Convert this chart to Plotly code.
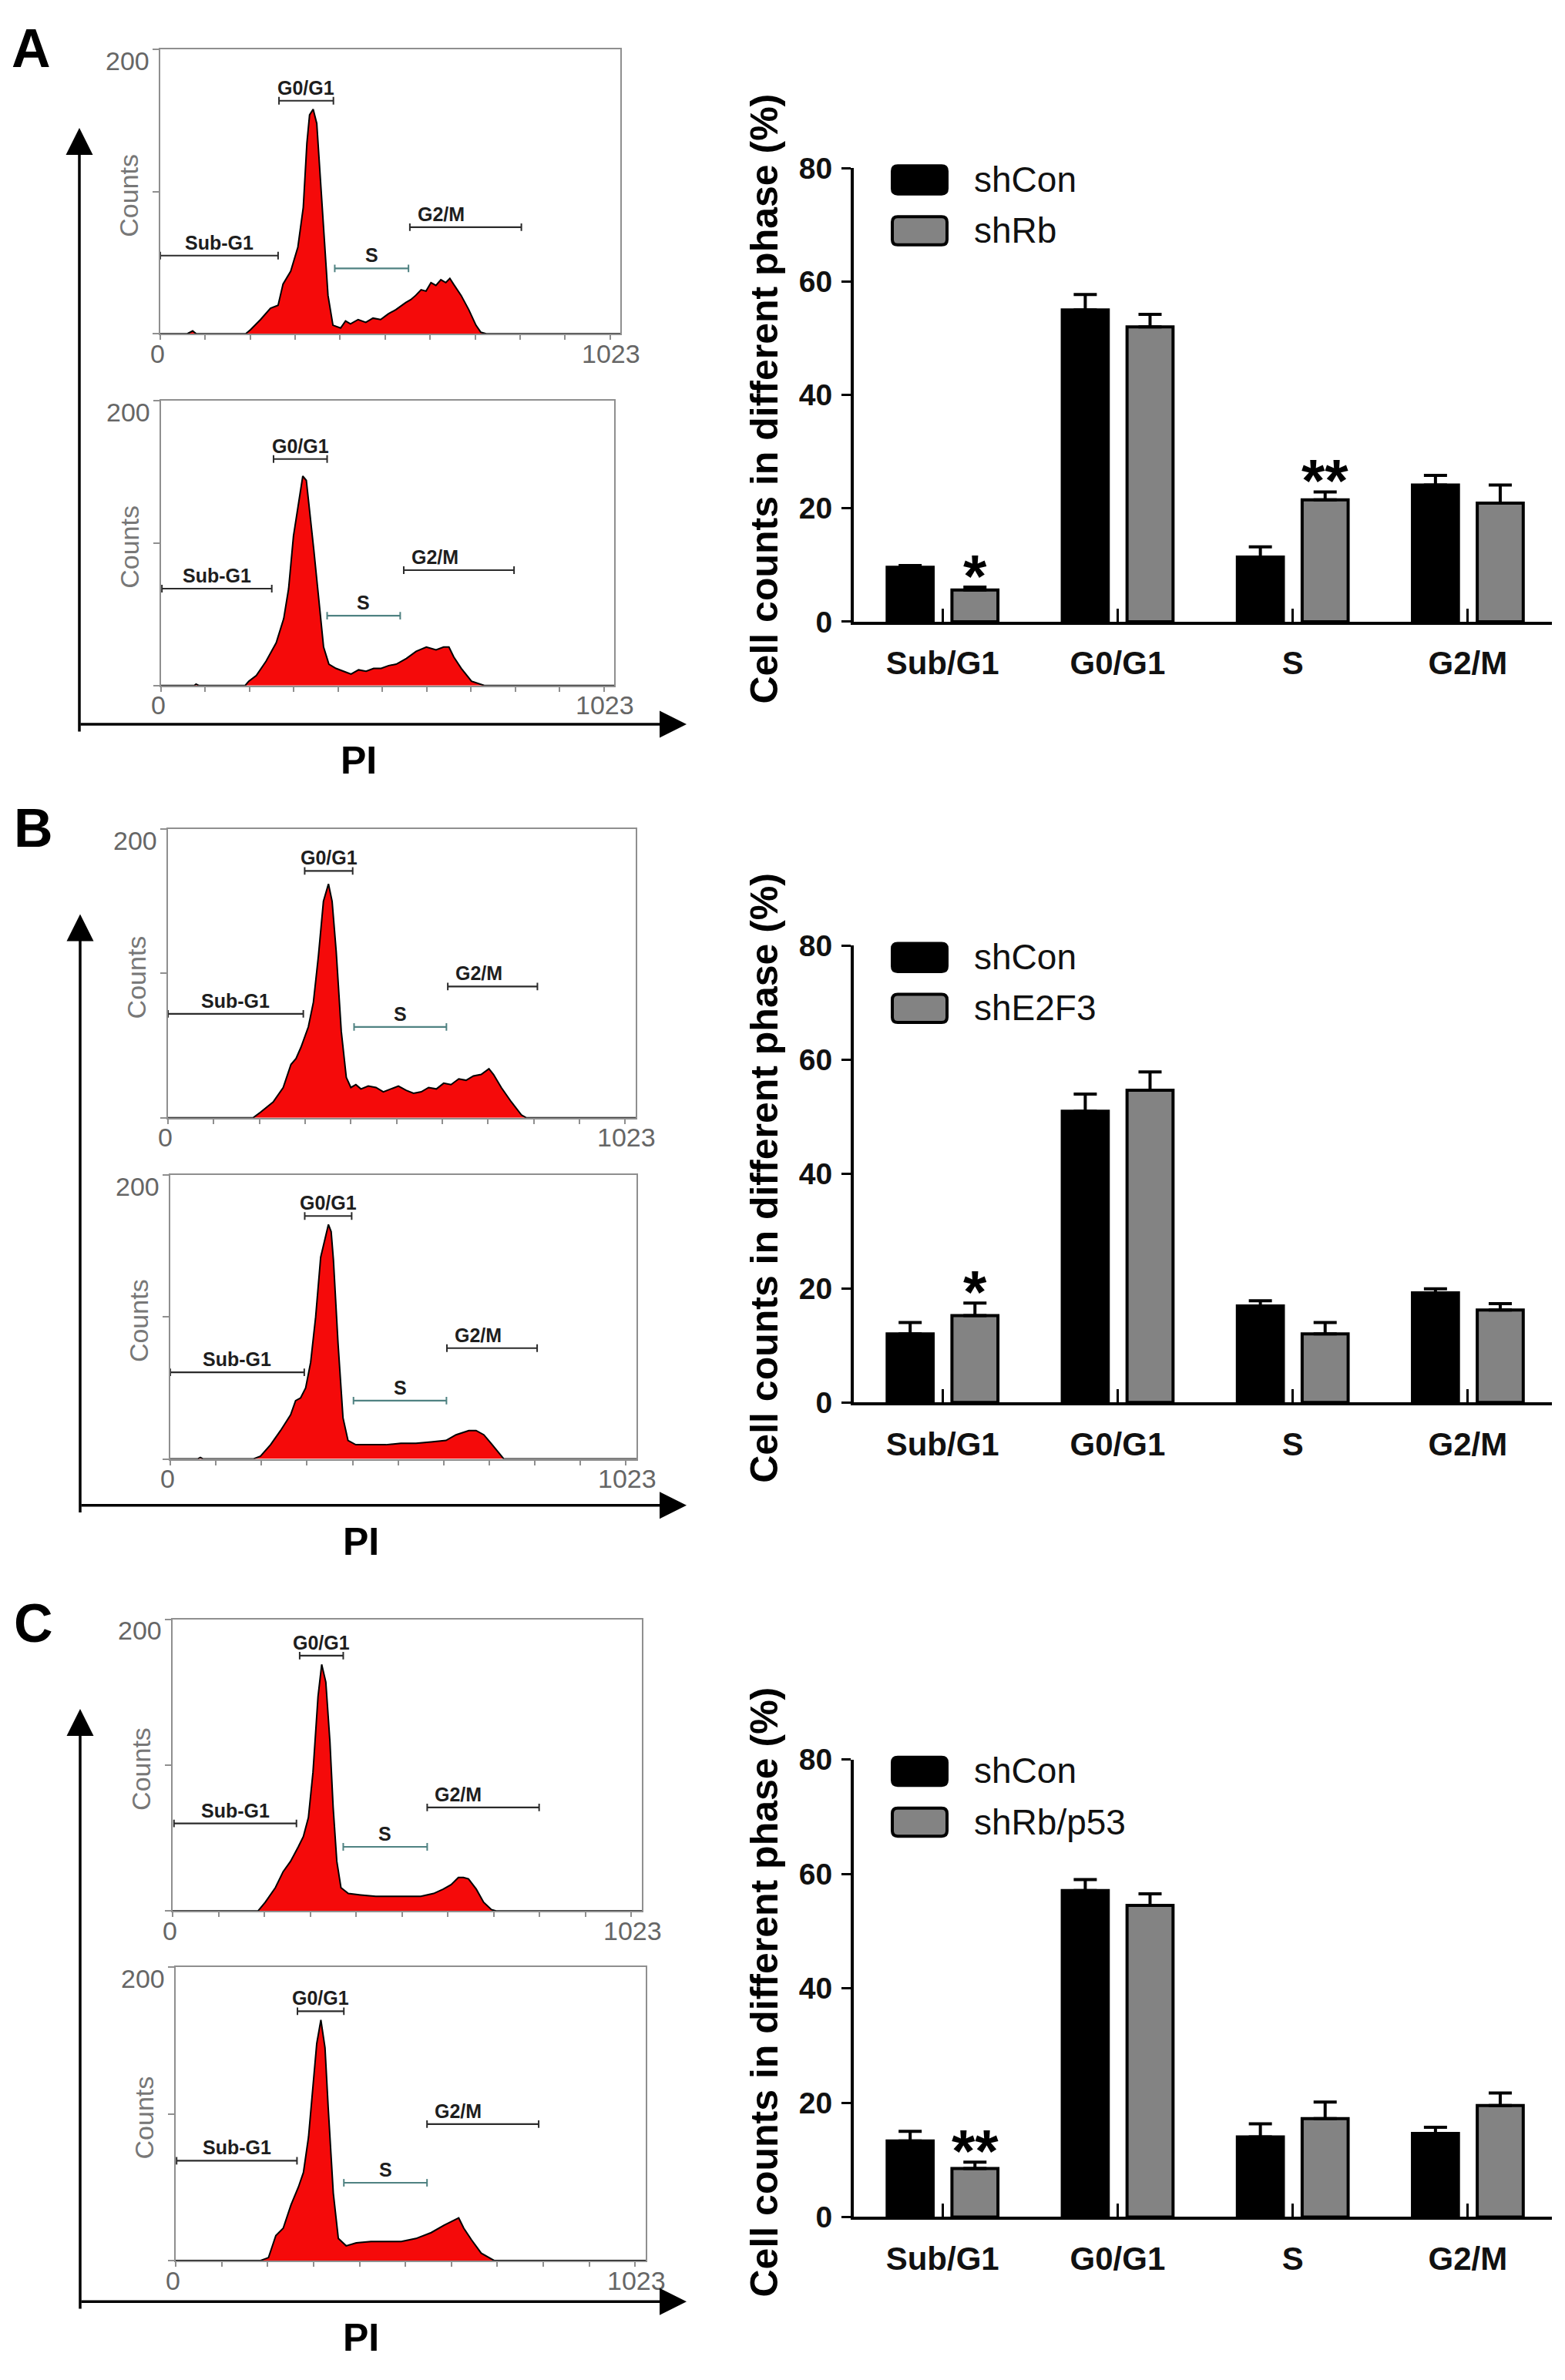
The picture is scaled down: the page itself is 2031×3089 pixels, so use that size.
import plotly.graph_objects as go

W, H = 2031, 3089
FONT = "Arial, Liberation Sans, sans-serif"

# ---- bar charts: phase percentages (mean, upper error) ----
PHASES = ["Sub/G1", "G0/G1", "S", "G2/M"]

A_CON = [9.6, 55.0, 11.4, 24.1]
A_CON_ERR = [0.3, 2.7, 1.8, 1.7]
A_KD = [5.6, 52.0, 21.5, 20.9]
A_KD_ERR = [0.5, 2.2, 1.4, 3.2]

B_CON = [12.0, 51.0, 16.9, 19.2]
B_CON_ERR = [2.0, 3.0, 0.9, 0.7]
B_KD = [15.2, 54.7, 12.0, 16.2]
B_KD_ERR = [2.2, 3.2, 2.0, 1.1]

C_CON = [13.3, 57.1, 14.0, 14.6]
C_CON_ERR = [1.7, 1.9, 2.3, 1.1]
C_KD = [8.5, 54.5, 17.2, 19.5]
C_KD_ERR = [1.1, 2.0, 2.9, 2.2]

KD_NAMES = ["shRb", "shE2F3", "shRb/p53"]
STARS = [[("Sub/G1", "*"), ("S", "**")], [("Sub/G1", "*")], [("Sub/G1", "**")]]

BAR_TICKS = [0, 20, 40, 60, 80]

# ---- PI histograms (channel, counts) ----
A_TOP_CH = [0, 60, 72, 80, 190, 201, 223, 245, 262, 273, 290, 306, 318, 326, 332, 340, 348, 354, 362,
            373, 384, 401, 412, 423, 440, 457, 473, 490, 507, 524, 546, 557, 568, 580, 591, 602, 613,
            624, 635, 644, 652, 669, 686, 702, 713, 725, 1023]
A_TOP_CT = [0, 0, 2, 0, 0, 3, 10, 18, 20, 35, 44, 61, 89, 134, 154, 158, 148, 120, 79,
            27, 6, 4, 9, 7, 10, 8, 11, 10, 14, 17, 22, 24, 27, 31, 30, 36, 34,
            38, 36, 39, 35, 27, 17, 6, 1, 0, 0]

A_BOT_CH = [0, 75, 79, 85, 190, 198, 215, 237, 260, 277, 288, 299, 311, 320, 328, 337, 345, 356, 367,
            379, 395, 412, 429, 446, 463, 480, 497, 514, 531, 554, 576, 599, 621, 638, 650, 661, 678,
            701, 718, 730, 1023]
A_BOT_CT = [0, 0, 1, 0, 0, 3, 7, 17, 30, 47, 68, 105, 129, 147, 144, 119, 95, 61, 27,
            15, 12, 10, 8, 11, 10, 12, 12, 14, 15, 19, 24, 27, 25, 27, 27, 20, 12,
            3, 1, 0, 0]

B_TOP_CH = [0, 186, 203, 230, 252, 269, 280, 291, 307, 318, 329, 340, 351, 359, 368, 379, 390, 400,
            411, 422, 438, 455, 471, 488, 504, 521, 537, 554, 570, 587, 603, 619, 636, 652, 668, 685,
            702, 712, 729, 751, 773, 784, 1023]
B_TOP_CT = [0, 0, 4, 11, 21, 37, 41, 49, 63, 80, 112, 150, 162, 150, 115, 60, 28, 21,
            23, 20, 22, 21, 18, 20, 22, 19, 17, 18, 21, 20, 24, 23, 27, 26, 29, 30,
            34, 30, 21, 11, 2, 0, 0]

B_BOT_CH = [0, 60, 66, 72, 182, 198, 220, 242, 264, 275, 286, 297, 308, 319, 330, 341, 347, 353, 358,
            368, 379, 390, 407, 440, 473, 506, 539, 572, 605, 627, 655, 671, 688, 704, 721, 732, 1023]
B_BOT_CT = [0, 0, 1, 0, 0, 2, 10, 20, 31, 41, 43, 50, 68, 100, 142, 158, 165, 160, 140,
            82, 29, 13, 10, 10, 10, 11, 11, 12, 13, 17, 20, 20, 17, 11, 4, 0, 0]

C_TOP_CH = [0, 186, 202, 224, 241, 257, 274, 285, 296, 306, 317, 325, 334, 343, 350, 358, 367, 383,
            410, 443, 476, 509, 541, 569, 590, 607, 623, 634, 645, 662, 678, 695, 705, 1023]
C_TOP_CT = [0, 0, 6, 16, 27, 34, 44, 51, 64, 95, 147, 169, 157, 116, 71, 34, 16, 12,
            11, 10, 10, 10, 10, 12, 15, 18, 23, 23, 22, 15, 6, 1, 0, 0]

C_BOT_CH = [0, 185, 202, 218, 234, 251, 267, 278, 289, 300, 307, 316, 325, 332, 343, 354, 371, 393,
            425, 458, 491, 523, 556, 584, 605, 616, 627, 644, 665, 693, 1023]
C_BOT_CT = [0, 0, 2, 17, 22, 38, 50, 60, 84, 121, 148, 164, 145, 104, 46, 15, 10, 12,
            13, 13, 13, 15, 19, 24, 27, 29, 22, 14, 5, 0, 0]

# gates: (start channel, end channel, counts level) for Sub-G1, G0/G1, S, G2/M
GATE_NAMES = ["Sub-G1", "G0/G1", "S", "G2/M"]
A_TOP_GATES = [(0, 262, 55), (264, 385, 164), (388, 552, 46), (555, 803, 75)]
A_BOT_GATES = [(2, 250, 68), (254, 375, 159), (375, 540, 49), (548, 797, 81)]
B_TOP_GATES = [(0, 296, 72), (299, 404, 171), (407, 609, 63), (612, 808, 91)]
B_BOT_GATES = [(0, 294, 61), (295, 398, 171), (402, 606, 41), (607, 805, 78)]
C_TOP_GATES = [(3, 270, 60), (277, 372, 175), (372, 555, 44), (555, 799, 71)]
C_BOT_GATES = [(2, 264, 68), (265, 366, 170), (366, 547, 53), (547, 790, 93)]

HIST_XTICKS = [0, 100, 200, 300, 400, 500, 600, 700, 800, 900, 1000]
HIST_YTICKS = [0, 100, 200]
HIST_LABELS = ["0", "1023", "200"]

# ---- page layout (pixels) ----
PANELS = [
    dict(letter="A", letter_xy=(13, 1),
         top=(208, 805, 44, 418), bot=(209, 797, 506, 881),
         bar_y=(200, 797), arrow=(103, 147, 932, 891), pi=(465, 980)),
    dict(letter="B", letter_xy=(16, 1027),
         top=(218, 825, 1070, 1450), bot=(221, 826, 1525, 1899),
         bar_y=(1223.5, 1824.6), arrow=(104, 1182, 1960, 891), pi=(468, 2008)),
    dict(letter="C", letter_xy=(16, 2074),
         top=(224, 833, 2110, 2494), bot=(228, 838, 2568, 2954),
         bar_y=(2294.6, 2896.8), arrow=(104, 2228, 3008, 891), pi=(468, 3056)),
]
BAR_X = (1108, 2014)

HISTS = [
    [(A_TOP_CH, A_TOP_CT, A_TOP_GATES), (A_BOT_CH, A_BOT_CT, A_BOT_GATES)],
    [(B_TOP_CH, B_TOP_CT, B_TOP_GATES), (B_BOT_CH, B_BOT_CT, B_BOT_GATES)],
    [(C_TOP_CH, C_TOP_CT, C_TOP_GATES), (C_BOT_CH, C_BOT_CT, C_BOT_GATES)],
]
BARS = [(A_CON, A_CON_ERR, A_KD, A_KD_ERR),
        (B_CON, B_CON_ERR, B_KD, B_KD_ERR),
        (C_CON, C_CON_ERR, C_KD, C_KD_ERR)]


def px(x):
    return x / W


def py(y):
    return 1 - y / H


def rounded_rect(x0, x1, top, bottom, r):
    """svg path (paper coords) for a legend swatch with rounded corners"""
    pts = [("M", x0 + r, top), ("L", x1 - r, top), ("Q", x1, top, x1, top + r),
           ("L", x1, bottom - r), ("Q", x1, bottom, x1 - r, bottom),
           ("L", x0 + r, bottom), ("Q", x0, bottom, x0, bottom - r),
           ("L", x0, top + r), ("Q", x0, top, x0 + r, top)]
    out = []
    for p in pts:
        coords = [f"{px(p[k]):.6f},{py(p[k + 1]):.6f}" for k in range(1, len(p), 2)]
        out.append(p[0] + " ".join(coords))
    return " ".join(out) + " Z"


fig = go.Figure()
layout = {}
annotations = []
shapes = []
gray_txt = dict(family=FONT, size=34, color="#666666")

for i, panel in enumerate(PANELS):
    # --- two histograms ---
    for j, (ch, ct, gates) in enumerate(HISTS[i]):
        n = 3 * i + j + 1
        x0, x1, y0, y1 = panel["top"] if j == 0 else panel["bot"]
        xa, ya = f"x{n}", f"y{n}"
        fig.add_trace(go.Scatter(
            x=ch, y=ct, mode="lines", fill="tozeroy", fillcolor="#f50a0a",
            line=dict(color="black", width=2), xaxis=xa, yaxis=ya, showlegend=False))
        for k, (g0, g1, lvl) in enumerate(gates):
            col = "#4f8282" if GATE_NAMES[k] == "S" else "#2b2b2b"
            fig.add_trace(go.Scatter(
                x=[g0, g1], y=[lvl, lvl], mode="lines+markers",
                line=dict(color=col, width=2.2),
                marker=dict(symbol="line-ns", size=7, line=dict(color=col, width=2)),
                xaxis=xa, yaxis=ya, showlegend=False))
            if GATE_NAMES[k] == "G2/M":
                lx, anchor, shift = g0, "left", 8
            else:
                lx, anchor, shift = (g0 + g1) / 2, "center", 0
            annotations.append(dict(
                x=lx, y=lvl, xref=xa, yref=ya, text=GATE_NAMES[k], showarrow=False,
                xanchor=anchor, yanchor="bottom", xshift=shift, yshift=1,
                font=dict(family=FONT, size=25, color="#1e1e1e", weight="bold")))
        layout[f"xaxis{n}"] = dict(
            domain=[px(x0), px(x1)], anchor=ya, range=[0, 1023],
            showline=True, mirror=True, linecolor="#8f8f8f", linewidth=2,
            showgrid=False, zeroline=False, ticks="outside", ticklen=6, tickwidth=2,
            tickcolor="#8f8f8f", tickvals=HIST_XTICKS, showticklabels=False)
        layout[f"yaxis{n}"] = dict(
            domain=[py(y1), py(y0)], anchor=xa, range=[0, 200],
            showline=True, mirror=True, linecolor="#8f8f8f", linewidth=2,
            showgrid=False, zeroline=False, ticks="outside", ticklen=8, tickwidth=2,
            tickcolor="#8f8f8f", tickvals=HIST_YTICKS, showticklabels=False)
        # range labels: 0 / 1023 under the frame, 200 at upper left
        annotations.append(dict(
            x=px(x0 - 4), y=py(y1 + 26), xref="paper", yref="paper", text=HIST_LABELS[0],
            showarrow=False, xanchor="center", yanchor="middle", font=gray_txt))
        annotations.append(dict(
            x=px(x1 - 12), y=py(y1 + 26), xref="paper", yref="paper", text=HIST_LABELS[1],
            showarrow=False, xanchor="center", yanchor="middle", font=gray_txt))
        annotations.append(dict(
            x=px(x0 - 12), y=py(y0 + 15), xref="paper", yref="paper", text=HIST_LABELS[2],
            showarrow=False, xanchor="right", yanchor="middle", font=gray_txt))
        annotations.append(dict(
            x=px(x0 - 41), y=py((y0 + y1) / 2 + 5), xref="paper", yref="paper",
            text="Counts", textangle=-90, showarrow=False,
            xanchor="center", yanchor="middle",
            font=dict(family=FONT, size=34, color="#777777")))

    # --- big PI / counts arrows ---
    ax_x, ax_top, ax_bot, ax_right = panel["arrow"]
    annotations.append(dict(
        x=px(ax_x), y=py(ax_top), xref="paper", yref="paper", ax=0, ay=ax_bot - ax_top,
        text="", showarrow=True, arrowhead=2, arrowsize=2, arrowwidth=3.5,
        arrowcolor="black", standoff=0, startstandoff=0))
    annotations.append(dict(
        x=px(ax_right), y=py(ax_bot), xref="paper", yref="paper", ax=-(ax_right - ax_x), ay=0,
        text="", showarrow=True, arrowhead=2, arrowsize=2, arrowwidth=3.5,
        arrowcolor="black", standoff=0, startstandoff=0))
    annotations.append(dict(
        x=px(panel["pi"][0]), y=py(panel["pi"][1]), xref="paper", yref="paper", text="PI",
        showarrow=False, xanchor="center", yanchor="middle",
        font=dict(family=FONT, size=50, color="black", weight="bold")))
    annotations.append(dict(
        x=px(panel["letter_xy"][0]), y=py(panel["letter_xy"][1]), xref="paper", yref="paper",
        text=panel["letter"], showarrow=False, xanchor="left", yanchor="top",
        font=dict(family=FONT, size=70, color="black", weight="bold")))

    # --- bar chart ---
    n = 3 * i + 3
    xa, ya = f"x{n}", f"y{n}"
    con, con_err, kd, kd_err = BARS[i]
    by0, by1 = panel["bar_y"]
    for vals, errs, name, col in [(con, con_err, "shCon", "black"),
                                  (kd, kd_err, KD_NAMES[i], "#838383")]:
        fig.add_trace(go.Bar(
            x=PHASES, y=vals, name=name, xaxis=xa, yaxis=ya, showlegend=False,
            marker=dict(color=col, line=dict(color="black", width=4)),
            error_y=dict(type="data", symmetric=False, array=errs,
                         arrayminus=[0] * len(errs), color="black", thickness=4, width=15)))
    layout[f"xaxis{n}"] = dict(
        domain=[px(BAR_X[0]), px(BAR_X[1])], anchor=ya, type="category",
        categoryorder="array", categoryarray=PHASES, range=[-0.507, 3.48],
        showline=True, linecolor="black", linewidth=4, showgrid=False, zeroline=False,
        ticks="inside", ticklen=17, tickwidth=3, tickcolor="black", ticklabelstandoff=14,
        tickfont=dict(family=FONT, size=42, color="#111111", weight="bold"))
    layout[f"yaxis{n}"] = dict(
        domain=[py(by1), py(by0)], anchor=xa, range=[0, 80], tickvals=BAR_TICKS,
        showline=True, linecolor="black", linewidth=4, showgrid=False, zeroline=False,
        ticks="outside", ticklen=12, tickwidth=3, tickcolor="black", ticklabelstandoff=4,
        tickfont=dict(family=FONT, size=39, color="#111111", weight="bold"))
    for cat, txt in STARS[i]:
        k = PHASES.index(cat)
        annotations.append(dict(
            x=cat, y=kd[k] + kd_err[k], xref=xa, yref=ya, text=txt, showarrow=False,
            xanchor="center", yanchor="bottom", xshift=42, yshift=-32,
            font=dict(family=FONT, size=78, color="black", weight="bold")))
    annotations.append(dict(
        x=px(992), y=py((by0 + by1) / 2 + 5), xref="paper", yref="paper",
        text="Cell counts in different phase (%)", textangle=-90, showarrow=False,
        xanchor="center", yanchor="middle",
        font=dict(family=FONT, size=50, color="black", weight="bold")))
    # legend swatches
    for r, (name, col) in enumerate([("shCon", "black"), (KD_NAMES[i], "#838383")]):
        top = by0 - 3 + r * 67
        shapes.append(dict(
            type="path", xref="paper", yref="paper",
            path=rounded_rect(1158, 1229, top, top + 37, 7),
            fillcolor=col, line=dict(color="black", width=4)))
        annotations.append(dict(
            x=px(1262), y=py(top + 18), xref="paper", yref="paper", text=name,
            showarrow=False, xanchor="left", yanchor="middle",
            font=dict(family=FONT, size=46, color="#111111")))

fig.update_layout(
    width=W, height=H, margin=dict(l=0, r=0, t=0, b=0),
    paper_bgcolor="white", plot_bgcolor="white",
    barmode="group", bargap=0.26, bargroupgap=0.29,
    annotations=annotations, shapes=shapes, **layout)

# keep the page flush with the window so the figure is not shifted by body margins
fig.write_html("out.html", config={"displayModeBar": False},
               post_script="document.body.style.margin = '0';")
